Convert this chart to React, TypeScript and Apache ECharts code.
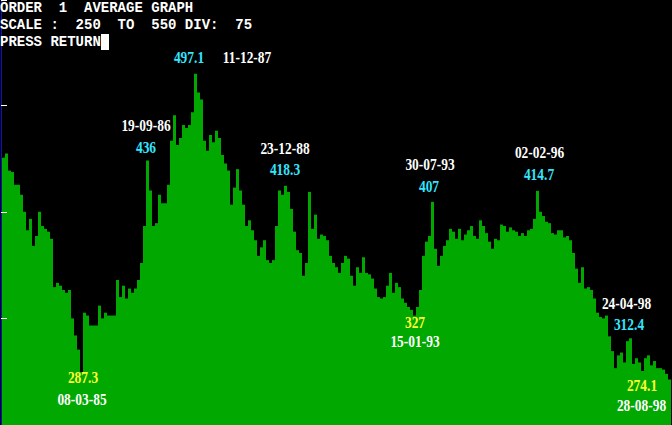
import React, { useEffect, useRef } from "react";
import * as echarts from "echarts";

const values: number[] = [
  438, 441, 429, 428, 419, 419, 412, 400, 387, 395,
  376, 383, 400, 390, 388, 386, 381, 347, 350, 348,
  345, 343, 345, 325, 313, 303, 287.3, 329, 327, 320,
  320, 320, 334, 325, 329, 327, 327, 327, 352, 340,
  348, 339, 346, 343, 346, 352, 364, 390, 436, 415,
  390, 392, 412, 406, 406, 419, 450, 468, 447, 452,
  461, 459, 461, 470, 497.1, 484, 479, 450, 443, 454,
  449, 457, 452, 440, 434, 429, 405, 417, 430, 415,
  405, 390, 394, 387, 380, 369, 375, 380, 366, 364,
  366, 390, 415, 412, 418.3, 414, 402, 386, 373, 371,
  355, 364, 414, 388, 398, 381, 384, 383, 380, 369,
  364, 361, 357, 364, 369, 367, 355, 348, 361, 357,
  368, 357, 356, 353, 346, 340, 339, 340, 348, 357,
  343, 350, 347, 339, 336, 333, 331, 327, 333, 345,
  369, 379, 383, 407, 374, 362, 369, 376, 380, 388,
  386, 381, 388, 380, 384, 387, 390, 383, 381, 394,
  390, 385, 379, 374, 381, 380, 391, 390, 386, 389,
  387, 386, 383, 385, 383, 387, 388, 395, 414.7, 400,
  397, 393, 392, 385, 384, 387, 387, 382, 383, 380,
  371, 360, 350, 361, 346, 347, 345, 339, 329, 326,
  325, 327, 312.4, 302, 290, 299, 301, 294, 309, 311,
  293, 297, 294, 288, 297, 299, 292, 295, 290, 290,
  289, 286, 282,
];

const categories: string[] = values.map((_, i) => String(i + 1));

const scaleMin = 250;
const scaleMax = 550;
const scaleDiv = 75;

const headerLines: string[] = [
  "ORDER  1  AVERAGE GRAPH",
  "SCALE :  250  TO  550 DIV:  75",
  "PRESS RETURN",
];

// turning points: date and value labels
const dateLabels: string[] = [
  "08-03-85", "19-09-86", "11-12-87", "23-12-88", "15-01-93",
  "30-07-93", "02-02-96", "24-04-98", "28-08-98",
];
const valueLabels: string[] = [
  "287.3", "436", "497.1", "418.3", "327",
  "407", "414.7", "312.4", "274.1",
];
const isLow: boolean[] = [true, false, false, false, true, false, false, false, true];

// layout (pixel centres) for the labels
const dateLabelPos: [number, number][] = [
  [82, 400], [146, 126], [247, 58], [285, 148.5], [415, 342],
  [430, 164.5], [539.5, 152.5], [626.5, 303.5], [641.5, 405.5],
];
const valueLabelPos: [number, number][] = [
  [83, 378], [146, 148], [189, 58], [285, 169.5], [415, 323],
  [429, 187], [539, 174.5], [629, 325], [642, 385.5],
];

const GREEN = "#00A800";
const CYAN = "#33E6FF";
const YELLOW = "#FFFF33";
const WHITE = "#FFFFFF";
const LABEL_FONT = 'bold 16px "Liberation Serif", "Times New Roman", serif';
const MONO_FONT = 'bold 14px "Liberation Mono", "DejaVu Sans Mono", monospace';

export default function App() {
  const ref = useRef<HTMLDivElement>(null);

  useEffect(() => {
    if (!ref.current) return;
    const chart = echarts.init(ref.current, undefined, { renderer: "svg" });

    const graphics: any[] = [];
    headerLines.forEach((line, i) => {
      graphics.push({
        type: "text",
        x: 0,
        y: 8 + i * 17,
        z: 100,
        silent: true,
        style: {
          text: line.replace(/ /g, "\u00A0"),
          fill: WHITE,
          font: MONO_FONT,
          align: "left",
          verticalAlign: "middle",
        },
      });
    });
    graphics.push({
      type: "rect",
      z: 100,
      silent: true,
      shape: { x: 101, y: 34, width: 8, height: 16 },
      style: { fill: WHITE },
    });
    dateLabels.forEach((t, i) => {
      graphics.push({
        type: "text",
        x: dateLabelPos[i][0],
        y: dateLabelPos[i][1],
        z: 100,
        scaleX: 0.84,
        silent: true,
        style: { text: t, fill: WHITE, font: LABEL_FONT, align: "center", verticalAlign: "middle" },
      });
    });
    valueLabels.forEach((t, i) => {
      graphics.push({
        type: "text",
        x: valueLabelPos[i][0],
        y: valueLabelPos[i][1],
        z: 100,
        scaleX: 0.84,
        silent: true,
        style: {
          text: t,
          fill: isLow[i] ? YELLOW : CYAN,
          font: LABEL_FONT,
          align: "center",
          verticalAlign: "middle",
        },
      });
    });

    chart.setOption({
      animation: false,
      backgroundColor: "#000000",
      grid: { left: 2, right: 1, top: 0, bottom: 0 },
      xAxis: {
        type: "category",
        data: categories,
        show: false,
        boundaryGap: true,
      },
      yAxis: [
        {
          type: "value",
          min: scaleMin,
          max: scaleMax - 1,
          startValue: scaleMin,
          show: false,
        },
        {
          // tick scale measured from the bottom of the scale (0 = 250)
          type: "value",
          min: 0,
          max: scaleMax - scaleMin - 1,
          interval: scaleDiv,
          position: "left",
          offset: 1,
          z: 10,
          axisLine: { show: true, lineStyle: { color: "#1010C8", width: 1 } },
          axisTick: { show: true, inside: true, length: 6, lineStyle: { color: WHITE, width: 1 } },
          axisLabel: { show: false },
          splitLine: { show: false },
        },
      ],
      series: [
        {
          type: "bar",
          data: values,
          yAxisIndex: 0,
          barCategoryGap: "0%",
          barGap: "0%",
          itemStyle: { color: GREEN },
          silent: true,
          emphasis: { disabled: true },
        },
      ],
      graphic: graphics,
    });

    return () => chart.dispose();
  }, []);

  return (
    <div
      ref={ref}
      style={{ position: "fixed", left: 0, top: 0, width: 672, height: 425, background: "#000" }}
    />
  );
}
